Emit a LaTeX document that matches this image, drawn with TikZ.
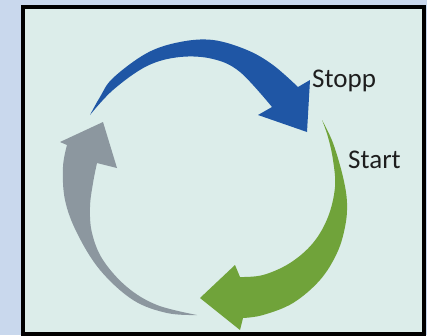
\documentclass[tikz,border=0pt]{standalone}
\usepackage{fontspec}
\setmainfont{Carlito}
\definecolor{outerbg}{RGB}{201,216,237}
\definecolor{innerbg}{RGB}{220,237,234}
\definecolor{arrowblue}{RGB}{31,86,165}
\definecolor{arrowgreen}{RGB}{112,163,58}
\definecolor{arrowgray}{RGB}{140,151,159}
\definecolor{labeltext}{RGB}{30,30,30}
\tikzset{
  lbl/.style={anchor=base west, inner sep=0pt, text=labeltext, font=\fontsize{27}{31}\selectfont},
  sm/.style={smooth, tension=0.6}
}
\begin{document}
\begin{tikzpicture}[x=1pt,y=-1pt]
\useasboundingbox (0,0) rectangle (427,335);
\fill[outerbg] (0,0) rectangle (427,335);
\fill[innerbg] (23,7) rectangle (424,334);
\draw[line width=3.5pt] (23,7) -- (424,7) -- (424,334) -- (23,334) -- cycle;
% blue arrow
\fill[arrowblue] plot[sm] coordinates {(90,115) (100,97) (113,78) (147,53) (180,42) (213,40) (247,50) (273,65) (298,87)}
  -- (310,80) -- (307,132) -- (258,115) -- (272,107)
  -- plot[sm] coordinates {(272,107) (240,72) (213,59) (180,57) (147,66) (113,90) (90,115)} -- cycle;
% green arrow
\fill[arrowgreen] plot[sm] coordinates {(322,120) (333,143) (343,177) (347,203) (345,227) (337,253) (320,280) (293,303) (263,315) (243,318)}
  -- (240,330) -- (200,298) -- (235,265) -- (240,277)
  -- plot[sm] coordinates {(240,277) (263,275) (290,263) (313,243) (328,217) (335,187) (333,160) (328,137) (322,120)} -- cycle;
% gray arrow
\fill[arrowgray] plot[sm] coordinates {(197,315) (167,313) (133,300) (100,270) (77,233) (65,200) (63,167) (67,145)}
  -- (60,142) -- (103,122) -- (117,168) -- (97,163)
  -- plot[sm] coordinates {(97,163) (93,183) (90,207) (92,233) (103,260) (127,287) (157,305) (197,315)} -- cycle;
\node[lbl] (stopp) at (312,87) {Stopp};
\node[lbl] (start) at (348,168) {Start};
\end{tikzpicture}
\end{document}
